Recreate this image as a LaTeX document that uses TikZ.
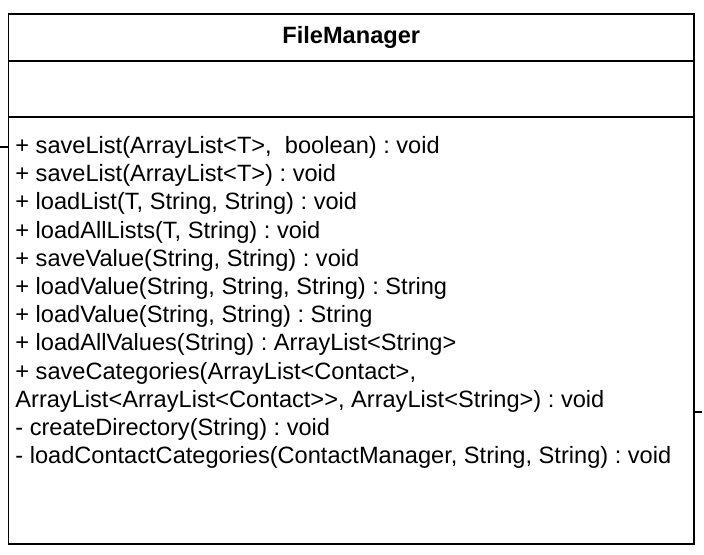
\documentclass[tikz,border=0pt]{standalone}
\usepackage{fontspec}
\setmainfont{Liberation Sans}
\frenchspacing
\usetikzlibrary{positioning}
\newcommand{\umlfont}{\fontsize{11.8}{14.1}\selectfont}
\tikzset{part/.style = {draw, line width = 0.9pt, inner sep = 0, outer sep = 0,
                        minimum width = 342.75pt}}
\tikzset{op/.style = {anchor = base west, inner sep = 0}}
\tikzset{link/.style = {line width = 0.9pt}}

\begin{document}
\begin{tikzpicture}[x=0.5pt, y=-0.5pt, font=\umlfont]
      \useasboundingbox (0, 0) rectangle (704, 554);
      \node at (351.25, 37.5) [part, minimum height = 23.5pt, font = \umlfont\bfseries] (head) {FileManager};
      \node [part, below = 0pt of head, minimum height = 28pt] (attrs) {};
      \node [part, below = 0pt of attrs, minimum height = 213.5pt] (ops) {};

      \foreach \txt [count=\i] in {{+ saveList(ArrayList<T>, \ boolean) : void},
                                   {+ saveList(ArrayList<T>) : void},
                                   {+ loadList(T, String, String) : void},
                                   {+ loadAllLists(T, String) : void},
                                   {+ saveValue(String, String) : void},
                                   {+ loadValue(String, String, String) : String},
                                   {+ loadValue(String, String) : String},
                                   {+ loadAllValues(String) : ArrayList<String>},
                                   {+ saveCategories(ArrayList<Contact>,},
                                   {ArrayList<ArrayList<Contact>{}>, ArrayList<String>) : void},
                                   {- createDirectory(String) : void},
                                   {- loadContactCategories(ContactManager, String, String) : void}}
        \node at (15, 125.3 + 28.2*\i) [op] (op\i) {\txt};

      \coordinate (leftend) at (0, 147);
      \coordinate (rightend) at (702, 412);
      \draw [link] (leftend) -- (leftend -| ops.west);
      \draw [link] (ops.east |- rightend) -- (rightend);
    \end{tikzpicture}
\end{document}
